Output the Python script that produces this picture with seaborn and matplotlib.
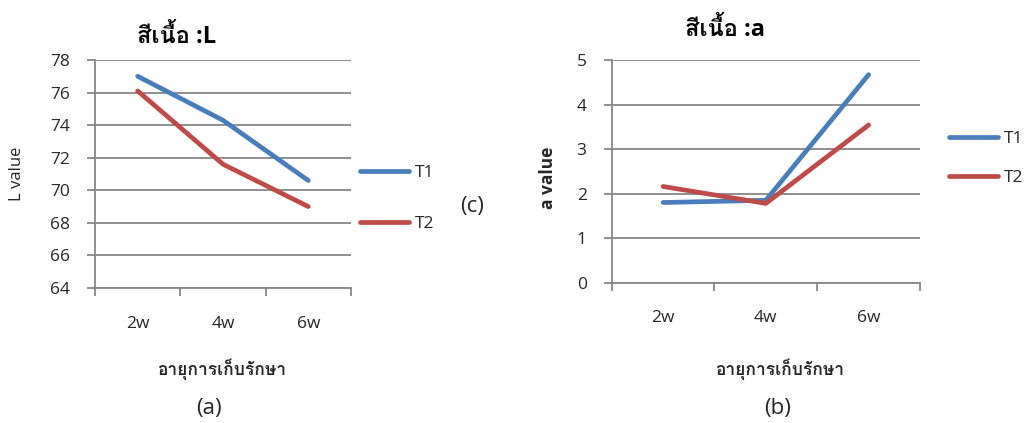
import matplotlib
matplotlib.use("Agg")
import matplotlib.pyplot as plt
from matplotlib import font_manager
from matplotlib.lines import Line2D
import seaborn as sns
import pandas as pd

# ---------------- data ----------------
weeks = ["2w", "4w", "6w"]
series_names = ["T1", "T2"]
L_T1 = [77.0, 74.3, 70.6]
L_T2 = [76.1, 71.6, 69.0]
a_T1 = [1.80, 1.85, 4.67]
a_T2 = [2.16, 1.78, 3.54]
L_ticks = [64, 66, 68, 70, 72, 74, 76, 78]
a_ticks = [0, 1, 2, 3, 4, 5]
title_L = "สีเนื้อ :L"
title_a = "สีเนื้อ :a"
xlabel_text = "อายุการเก็บรักษา"
ylabel_L = "L value"
ylabel_a = "a value"
colors = ["#4A7EBB", "#BE4B48"]

# ---------------- fonts ----------------
sns.set_theme(style="white")


def find_thai_font():
    try:
        from fontTools.ttLib import TTFont
    except Exception:
        return None
    seen = set()
    for f in font_manager.fontManager.ttflist:
        if f.fname in seen:
            continue
        seen.add(f.fname)
        try:
            tt = TTFont(f.fname, fontNumber=0, lazy=True)
            cmap = tt.getBestCmap()
            if cmap and 0x0E2A in cmap and 0x0E35 in cmap:
                return f.name
        except Exception:
            continue
    return None


thai = find_thai_font()
fams = ["Open Sans", "DejaVu Sans"]
if thai:
    fams = ["Open Sans", thai, "DejaVu Sans"]
plt.rcParams["font.family"] = fams

grid_col = "#878787"
txt_col = "#262626"
LW = 3.4

fig = plt.figure(figsize=(10.35, 4.23), dpi=100)

df_L = pd.DataFrame({"week": weeks * 2,
                     "value": L_T1 + L_T2,
                     "series": [series_names[0]] * 3 + [series_names[1]] * 3})
df_a = pd.DataFrame({"week": weeks * 2,
                     "value": a_T1 + a_T2,
                     "series": [series_names[0]] * 3 + [series_names[1]] * 3})


def style_axes(ax, ticks, ylabel, ybold):
    ax.set_xlim(-0.5, 2.5)
    ax.set_ylim(ticks[0], ticks[-1])
    ax.set_yticks(ticks)
    ax.set_yticklabels([str(t) for t in ticks], fontsize=12.5, color=txt_col)
    ax.set_xticks([-0.5, 0.5, 1.5, 2.5])
    ax.set_xticklabels([])
    ax.set_xticks([0, 1, 2], minor=True)
    ax.set_xticklabels(weeks, minor=True, fontsize=12.5, color=txt_col)
    ax.tick_params(axis="x", which="major", direction="out", length=6,
                   width=1.3, color=grid_col, bottom=True)
    ax.tick_params(axis="x", which="minor", length=0, pad=20, bottom=True)
    ax.tick_params(axis="y", direction="out", length=6, width=1.3,
                   color=grid_col, left=True, pad=12)
    for s in ["top", "right"]:
        ax.spines[s].set_visible(False)
    for s in ["left", "bottom"]:
        ax.spines[s].set_color(grid_col)
        ax.spines[s].set_linewidth(1.3)
    ax.yaxis.grid(True, color=grid_col, linewidth=1.3)
    ax.xaxis.grid(False)
    ax.set_axisbelow(True)
    ax.set_xlabel("")
    ax.set_ylabel(ylabel, fontsize=12 if not ybold else 12.5,
                  fontweight="bold" if ybold else "normal", color=txt_col)
    if ax.get_legend() is not None:
        ax.get_legend().remove()


# ---- left panel ----
ax1 = fig.add_axes([0.0918, 0.3191, 0.2473, 0.5391])
sns.lineplot(data=df_L, x="week", y="value", hue="series", palette=colors,
             linewidth=LW, ax=ax1, sort=False)
style_axes(ax1, L_ticks, ylabel_L, False)
ax1.yaxis.set_label_coords(-0.273, 0.5)

# ---- right panel ----
ax2 = fig.add_axes([0.5910, 0.3317, 0.2979, 0.5265])
sns.lineplot(data=df_a, x="week", y="value", hue="series", palette=colors,
             linewidth=LW, ax=ax2, sort=False)
style_axes(ax2, a_ticks, ylabel_a, True)
ax2.yaxis.set_label_coords(-0.177, 0.47)

for ax in (ax1, ax2):
    for ln in ax.lines:
        ln.set_solid_capstyle("round")
        ln.set_solid_joinstyle("round")

# titles
fig.text(0.171, 0.9125, title_L, fontsize=17, fontweight="bold",
         ha="center", va="center", color="black")
fig.text(0.7005, 0.929, title_a, fontsize=17, fontweight="bold",
         ha="center", va="center", color="black")

# x labels
fig.text(0.2145, 0.128, xlabel_text, fontsize=12.5, fontweight="bold",
         ha="center", va="center", color=txt_col)
fig.text(0.7535, 0.128, xlabel_text, fontsize=12.5, fontweight="bold",
         ha="center", va="center", color=txt_col)

# panel letters
fig.text(0.2019, 0.035, "(a)", fontsize=16, ha="center", va="center", color=txt_col)
fig.text(0.7517, 0.035, "(b)", fontsize=16, ha="center", va="center", color=txt_col)
fig.text(0.4560, 0.513, "(c)", fontsize=16, ha="center", va="center", color=txt_col)

# legends
handles = [Line2D([0], [0], color=c, lw=LW, solid_capstyle="round") for c in colors]
fig.legend(handles, series_names, loc="center left",
           bbox_to_anchor=(360 / 1035, 0.531), frameon=False, fontsize=12.5,
           handlelength=2.85, handletextpad=0.29, labelspacing=1.97,
           borderpad=0, borderaxespad=0, labelcolor=txt_col)
fig.legend(handles, series_names, loc="center left",
           bbox_to_anchor=(949 / 1035, 0.6253), frameon=False, fontsize=12.5,
           handlelength=2.85, handletextpad=0.29, labelspacing=1.28,
           borderpad=0, borderaxespad=0, labelcolor=txt_col)

fig.savefig("out.png", dpi=100)
